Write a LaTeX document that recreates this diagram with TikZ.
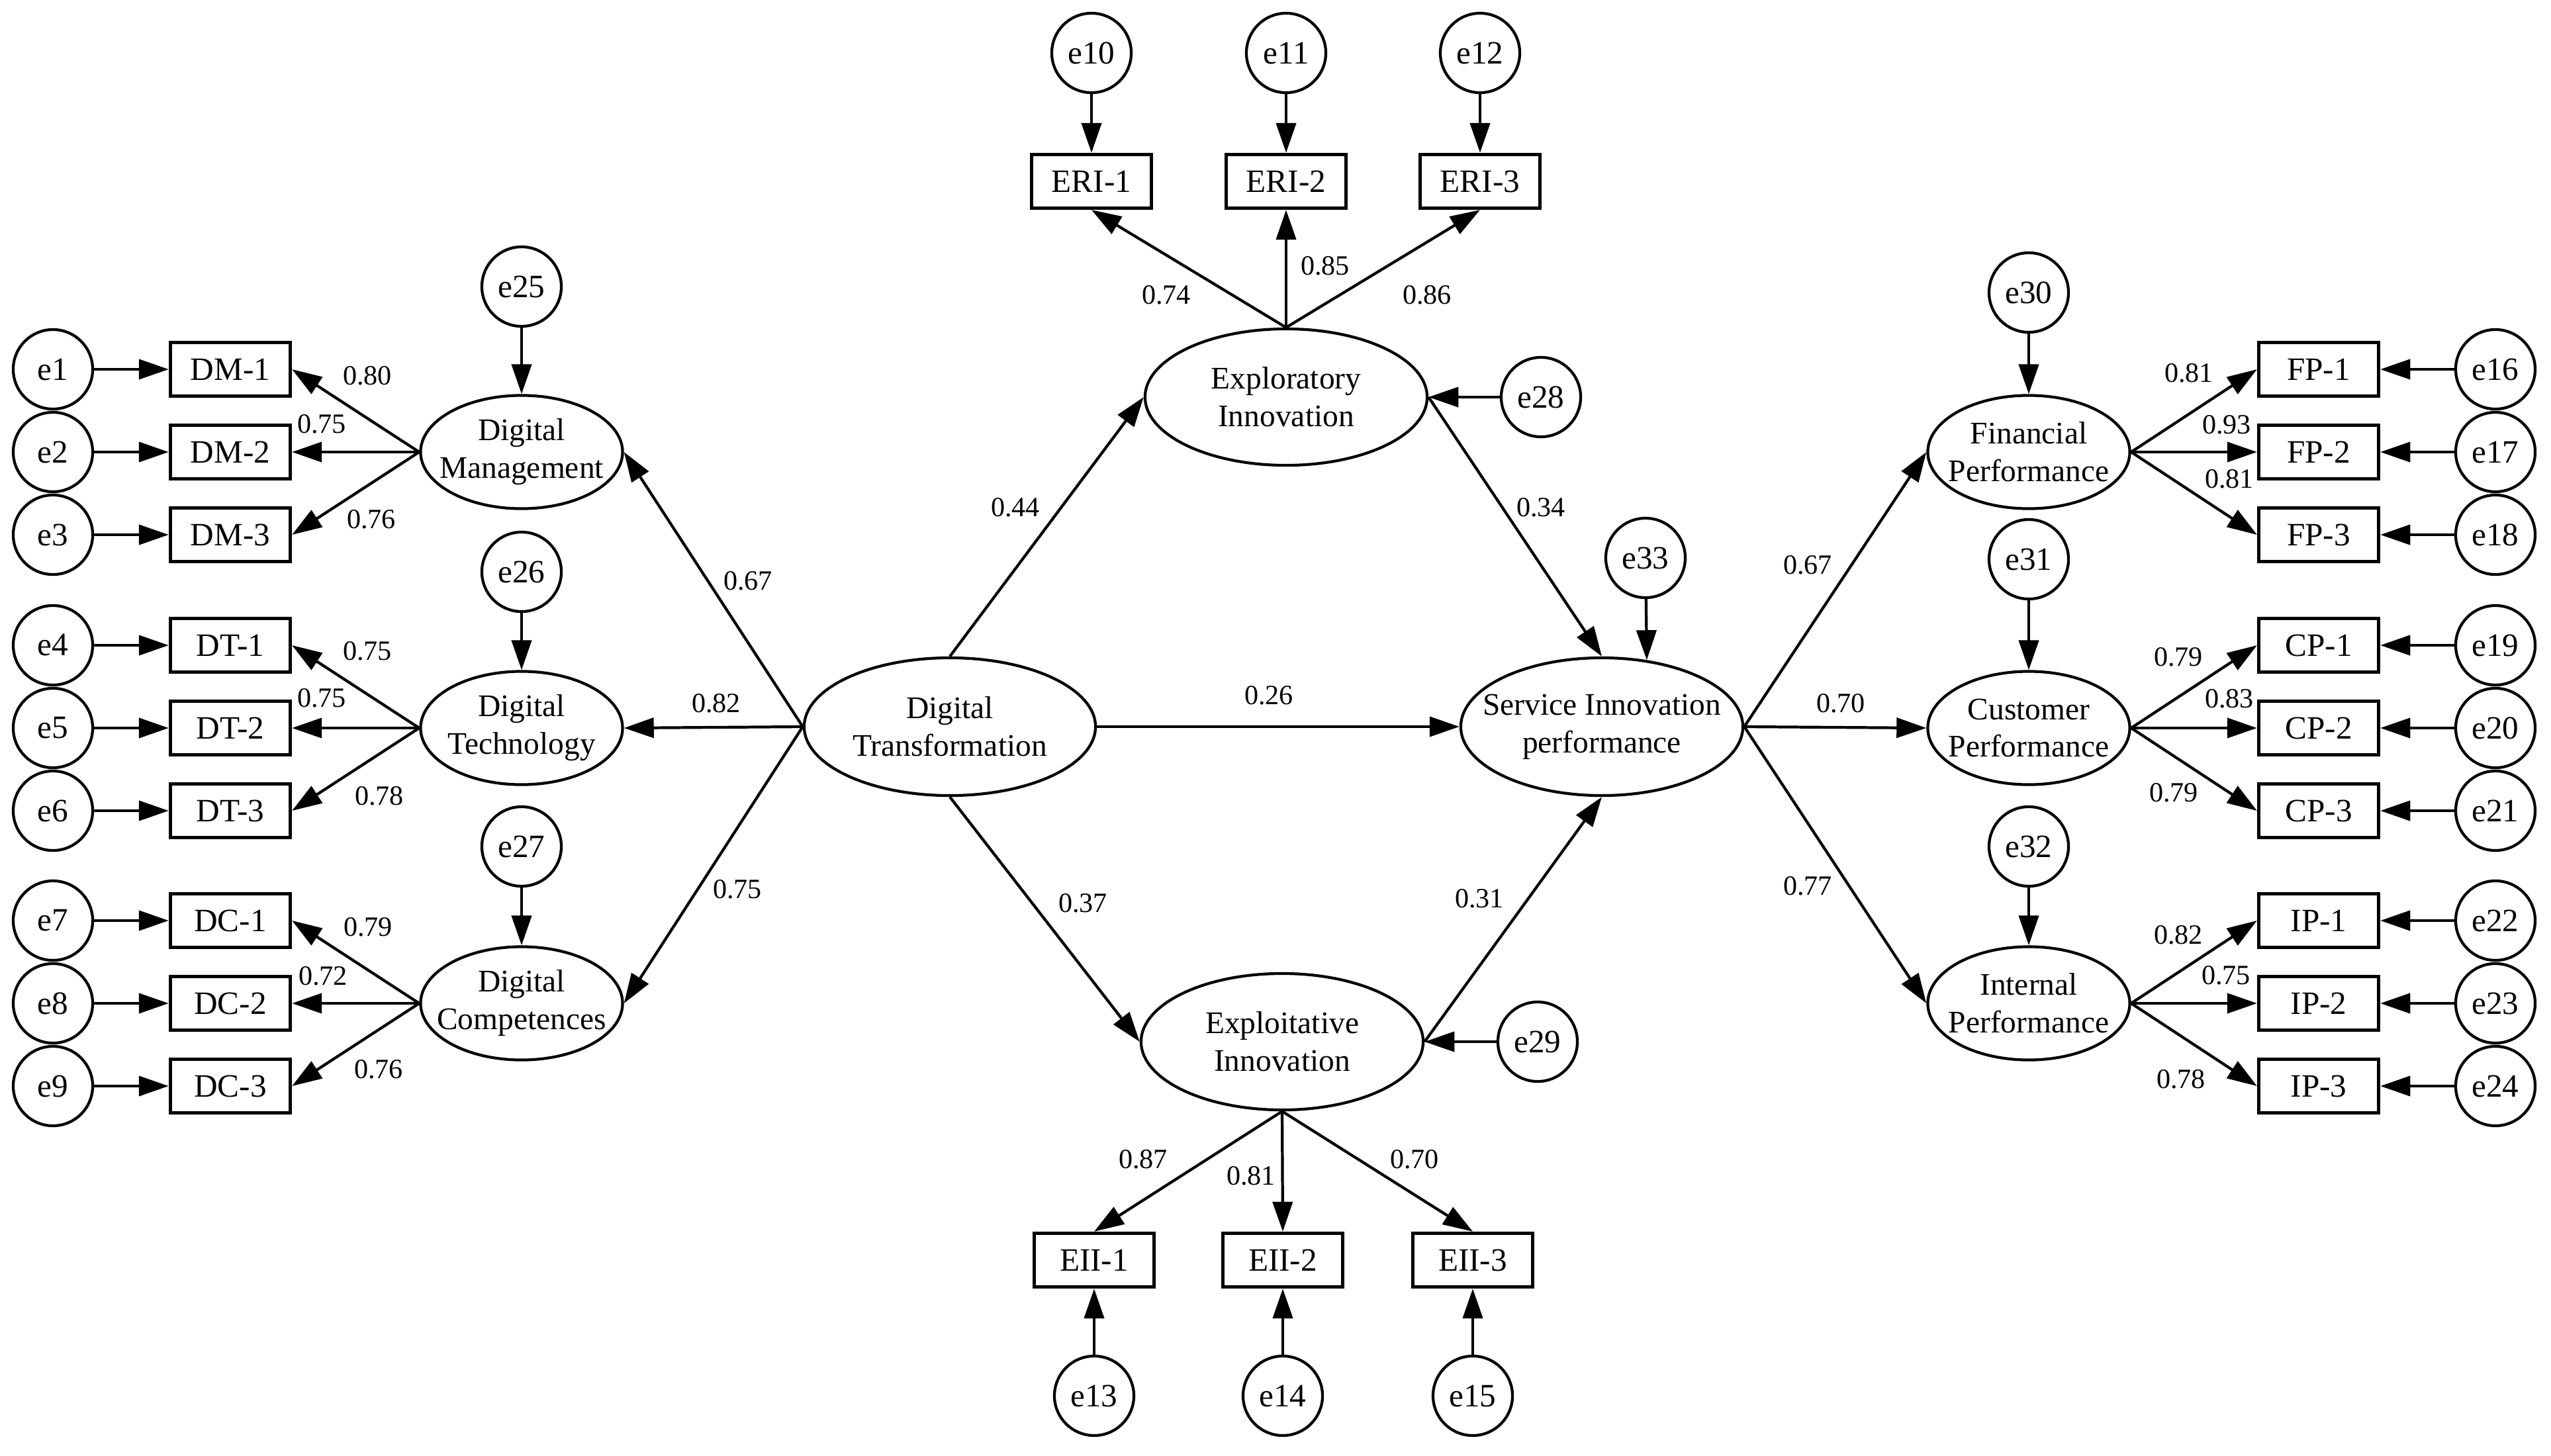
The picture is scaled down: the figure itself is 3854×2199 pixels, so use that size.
\documentclass[tikz,border=0pt]{standalone}
\usepackage{fontspec}
\setmainfont{Liberation Serif}
\usetikzlibrary{shapes.geometric,arrows.meta}
\begin{document}
\begin{tikzpicture}[x=0.01cm, y=-0.01cm, line width=1.2pt,
	>={Triangle[length=0.45cm,width=0.3cm]},
	err/.style={draw,circle,minimum size=1.2cm,inner sep=0pt,font=\fontsize{14}{16}\selectfont},
	obs/.style={draw,rectangle,line width=1.5pt,minimum width=1.81cm,minimum height=0.81cm,inner sep=0pt,font=\fontsize{14}{16}\selectfont},
	lattext/.style={align=center,inner sep=0pt,font=\fontsize{13.5}{16.2}\selectfont},
	lat/.style={draw,ellipse,minimum width=3.05cm,minimum height=1.71cm,inner sep=0pt,label={[lattext]center:#1}},
	core/.style={lat=#1,minimum width=4.26cm,minimum height=2.06cm},
	lbl/.style={inner sep=0pt,font=\fontsize{12}{14}\selectfont}]
	
	\useasboundingbox [fill=white] (0,0) rectangle (3854,2199);
	
	% Latent variables
	\node (dmg) at (788,683) [lat={Digital\\Management}] {};
	\node (dtc) at (788,1100) [lat={Digital\\Technology}] {};
	\node (dcp) at (788,1516) [lat={Digital\\Competences}] {};
	\node (trans) at (1435,1098) [core={Digital\\Transformation},minimum width=4.4cm,minimum height=2.08cm] {};
	\node (explor) at (1943,600) [core={Exploratory\\Innovation}] {};
	\node (exploit) at (1937,1574) [core={Exploitative\\Innovation}] {};
	\node (sip) at (2420,1098) [core={Service Innovation\\performance},minimum height=2.08cm] {};
	\node (fin) at (3065,683) [lat={Financial\\Performance}] {};
	\node (cus) at (3065,1100) [lat={Customer\\Performance}] {};
	\node (intp) at (3065,1516) [lat={Internal\\Performance}] {};
	
	% Left indicators
	\foreach \lv/\ab/\y/\i in {dmg/DM/683/1, dtc/DT/1100/4, dcp/DC/1516/7}{
		\foreach \k in {1,...,3}{
			\pgfmathtruncatemacro{\e}{\i+\k-1}
			\pgfmathsetmacro{\yy}{\y+125*(\k-2)}
			\node (\ab\k) at (348,\yy) [obs] {\ab-\k};
			\node (e\e) at (80,\yy) [err] {e\e};
			\draw [->] (e\e) -- (\ab\k);
			\draw [->] (\lv.west) -- (\ab\k.east);
		}
	}
	
	% Right indicators
	\foreach \lv/\ab/\y/\i in {fin/FP/683/16, cus/CP/1100/19, intp/IP/1516/22}{
		\foreach \k in {1,...,3}{
			\pgfmathtruncatemacro{\e}{\i+\k-1}
			\pgfmathsetmacro{\yy}{\y+125*(\k-2)}
			\node (\ab\k) at (3503,\yy) [obs] {\ab-\k};
			\node (e\e) at (3770,\yy) [err] {e\e};
			\draw [->] (e\e) -- (\ab\k);
			\draw [->] (\lv.east) -- (\ab\k.west);
		}
	}
	
	% Exploratory indicators
	\foreach \x [count=\k] in {1649,1943,2236}{
		\pgfmathtruncatemacro{\e}{9+\k}
		\node (ERI\k) at (\x,274) [obs] {ERI-\k};
		\node (e\e) at (\x,80) [err] {e\e};
		\draw [->] (e\e) -- (ERI\k);
		\draw [->] (explor.north) -- (ERI\k.south);
	}
	
	% Exploitative indicators
	\foreach \x [count=\k] in {1653,1938,2225}{
		\pgfmathtruncatemacro{\e}{12+\k}
		\node (EII\k) at (\x,1904) [obs] {EII-\k};
		\node (e\e) at (\x,2109) [err] {e\e};
		\draw [->] (e\e) -- (EII\k);
		\draw [->] (exploit.south) -- (EII\k.north);
	}
	
	% Disturbances
	\node (e25) at (788,433) [err] {e25};
	\node (e26) at (788,864) [err] {e26};
	\node (e27) at (788,1279) [err] {e27};
	\node (e28) at (2328,600) [err] {e28};
	\node (e29) at (2323,1574) [err] {e29};
	\node (e30) at (3065,442) [err] {e30};
	\node (e31) at (3065,845) [err] {e31};
	\node (e32) at (3065,1279) [err] {e32};
	\node (e33) at (2486,843) [err] {e33};
	\foreach \a/\b in {e25/dmg, e26/dtc, e27/dcp, e28/explor, e29/exploit, e30/fin, e31/cus, e32/intp}{
		\draw [->] (\a) -- (\b);
	}
	\draw [->] (e33) -- (sip.56);
	
	% Structural paths
	\draw [->] (trans.west) -- (dmg.east);
	\draw [->] (trans.west) -- (dtc.east);
	\draw [->] (trans.west) -- (dcp.east);
	\draw [->] (trans.north) -- (explor.west);
	\draw [->] (trans.east) -- (sip.west);
	\draw [->] (trans.south) -- (exploit.west);
	\draw [->] (explor.east) -- (sip.north);
	\draw [->] (exploit.east) -- (sip.south);
	\draw [->] (sip.east) -- (fin.west);
	\draw [->] (sip.east) -- (cus.west);
	\draw [->] (sip.east) -- (intp.west);
	
	% Path coefficients
	\node (c1) at (1130,878) [lbl] {0.67};
	\node (c2) at (1082,1063) [lbl] {0.82};
	\node (c3) at (1114,1344) [lbl] {0.75};
	\node (c4) at (1534,767) [lbl] {0.44};
	\node (c5) at (2328,767) [lbl] {0.34};
	\node (c6) at (1917,1051) [lbl] {0.26};
	\node (c7) at (1636,1365) [lbl] {0.37};
	\node (c8) at (2235,1358) [lbl] {0.31};
	\node (c9) at (2731,854) [lbl] {0.67};
	\node (c10) at (2781,1063) [lbl] {0.70};
	\node (c11) at (2731,1339) [lbl] {0.77};
	
	% Factor loadings
	\node (l1) at (555,568) [lbl] {0.80};
	\node (l2) at (486,641) [lbl] {0.75};
	\node (l3) at (561,785) [lbl] {0.76};
	\node (l4) at (555,984) [lbl] {0.75};
	\node (l5) at (486,1055) [lbl] {0.75};
	\node (l6) at (573,1203) [lbl] {0.78};
	\node (l7) at (556,1401) [lbl] {0.79};
	\node (l8) at (488,1475) [lbl] {0.72};
	\node (l9) at (572,1616) [lbl] {0.76};
	\node (l10) at (1762,446) [lbl] {0.74};
	\node (l11) at (2002,402) [lbl] {0.85};
	\node (l12) at (2156,446) [lbl] {0.86};
	\node (l13) at (1727,1752) [lbl] {0.87};
	\node (l14) at (1890,1777) [lbl] {0.81};
	\node (l15) at (2137,1752) [lbl] {0.70};
	\node (l16) at (3307,564) [lbl] {0.81};
	\node (l17) at (3364,642) [lbl] {0.93};
	\node (l18) at (3368,724) [lbl] {0.81};
	\node (l19) at (3291,993) [lbl] {0.79};
	\node (l20) at (3368,1056) [lbl] {0.83};
	\node (l21) at (3284,1198) [lbl] {0.79};
	\node (l22) at (3291,1413) [lbl] {0.82};
	\node (l23) at (3363,1474) [lbl] {0.75};
	\node (l24) at (3295,1631) [lbl] {0.78};
	
\end{tikzpicture}
\end{document}
